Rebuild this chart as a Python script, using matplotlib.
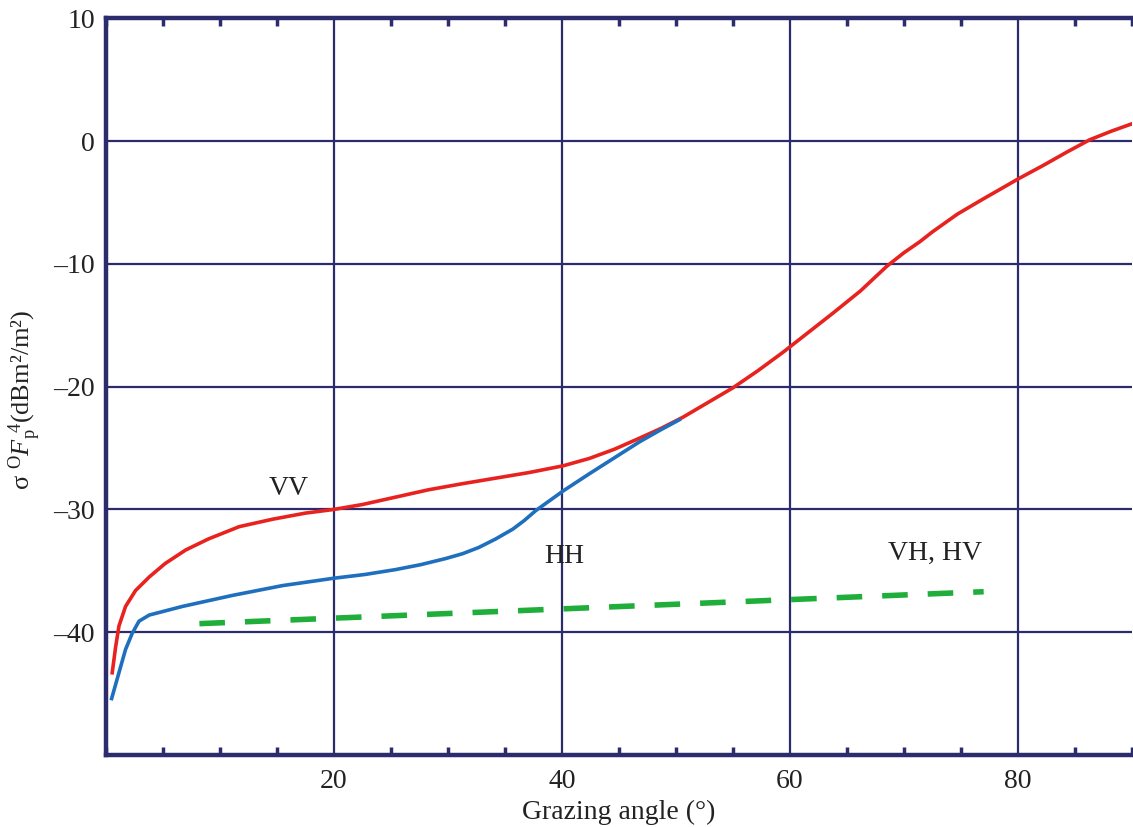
import numpy as np
import matplotlib.pyplot as plt
from matplotlib.ticker import MultipleLocator

# grazing angle (deg) and sigma0 * F^4 (dB)
vv_angle = [0.55, 0.85, 1.14, 1.72, 2.6, 3.8, 5.2, 7.0, 9.0, 11.7, 14.6, 17.5,
            20.0, 22.5, 25.4, 28.3, 31.3, 34.2, 37.1, 40.1, 42.4, 44.6, 46.8,
            48.7, 50.6, 52.8, 55.0, 57.2, 59.4, 61.6, 63.8, 66.2, 68.5, 70.0,
            71.4, 72.5, 74.7, 76.9, 78.5, 80.0, 82.2, 84.3, 86.3, 88.2, 90.0]
vv_sigma = [-43.3, -41.2, -39.5, -37.9, -36.6, -35.5, -34.4, -33.3, -32.4, -31.4,
            -30.8, -30.3, -30.0, -29.6, -29.0, -28.4, -27.9, -27.45, -27.0, -26.45,
            -25.85, -25.1, -24.2, -23.4, -22.5, -21.3, -20.1, -18.7, -17.2, -15.6,
            -14.0, -12.2, -10.2, -9.1, -8.2, -7.4, -5.95, -4.75, -3.9, -3.1, -2.0,
            -0.9, 0.1, 0.8, 1.4]

hh_angle = [0.5, 1.14, 1.72, 2.3, 2.9, 3.8, 6.7, 11.1, 15.5, 20.0, 22.7, 25.4,
            27.6, 29.8, 31.3, 32.7, 34.2, 35.7, 36.7, 37.7, 38.9, 40.1, 42.4,
            44.6, 46.8, 48.7, 50.3]
hh_sigma = [-45.4, -43.3, -41.4, -40.1, -39.1, -38.6, -37.9, -37.0, -36.2, -35.6,
            -35.3, -34.9, -34.5, -34.0, -33.6, -33.1, -32.4, -31.6, -30.9, -30.1,
            -29.3, -28.5, -27.1, -25.8, -24.5, -23.5, -22.7]

cross_angle = [8.2, 77.0]
cross_sigma = [-39.3, -36.7]

navy = '#2c2b6b'
plt.rcParams['font.family'] = ['Liberation Serif', 'DejaVu Serif']
plt.rcParams['mathtext.fontset'] = 'custom'
plt.rcParams['mathtext.rm'] = 'Liberation Serif'
plt.rcParams['mathtext.it'] = 'Liberation Serif:italic'

fig = plt.figure(figsize=(11.33, 8.27), dpi=100)
ax = fig.add_axes([0.0935, 0.087, 0.9055, 0.891])

ax.plot(vv_angle, vv_sigma, color='#e8231f', lw=2.6, solid_joinstyle='round')
ax.plot(hh_angle, hh_sigma, color='#1f6fbf', lw=2.6, solid_joinstyle='round')
ax.plot(cross_angle, cross_sigma, color='#1fae3a', lw=4, dashes=(4.6, 3.6))

ax.set_xlim(0, 90)
ax.set_ylim(-50, 10)
ax.xaxis.set_minor_locator(MultipleLocator(5))
ax.set_xticks([20, 40, 60, 80])
ax.set_yticks([10, 0, -10, -20, -30, -40])
ax.set_yticklabels(['10', '0', '\u201310', '\u201320', '\u201330', '\u201340'])

ax.grid(True, which='major', color=navy, lw=1.6)
ax.tick_params(axis='x', which='major', length=0, labelsize=20, pad=10,
               labelcolor='#222222')
ax.tick_params(axis='x', which='minor', direction='in', length=6, width=2.5,
               color=navy, top=True, bottom=True)
ax.tick_params(axis='y', which='major', length=0, labelsize=20, pad=8,
               labelcolor='#222222')

for side in ['left', 'top', 'bottom']:
    ax.spines[side].set_color(navy)
    ax.spines[side].set_linewidth(3.2)
ax.spines['right'].set_visible(False)

ax.text(16.0, -28.3, 'VV', fontsize=20, ha='center', va='center', color='#222222')
ax.text(40.2, -33.8, 'HH', fontsize=20, ha='center', va='center', color='#222222')
ax.text(72.7, -33.6, 'VH, HV', fontsize=20, ha='center', va='center', color='#222222')

ax.set_xlabel('Grazing angle (\u00b0)', fontsize=20, color='#222222', labelpad=4)
fig.text(0.022, 1 - 400 / 827,
         '\u03c3 $^{\\mathrm{O}}F_{\\mathrm{p}}^{\\ 4}$(dBm\u00b2/m\u00b2)',
         rotation=90, ha='center', va='center', fontsize=19, color='#222222')

fig.savefig('out.png', dpi=100)
